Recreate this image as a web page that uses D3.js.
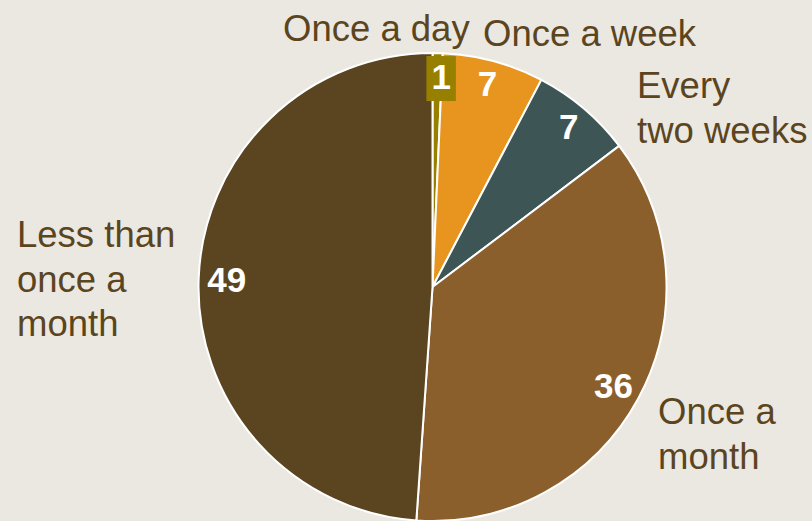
<!DOCTYPE html>
<html>
<head>
<meta charset="utf-8">
<script src="https://cdn.jsdelivr.net/npm/d3@7"></script>
<style>
  html, body { margin: 0; padding: 0; background: #ebe8e2; }
  svg { display: block; }
</style>
</head>
<body>
<script>
// how often -- share of respondents (%)
const categories = ["Once a day", "Once a week", "Every two weeks", "Once a month", "Less than once a month"];
const values = [0.7, 7.0, 7.0, 36.4, 48.9];
const colors = ["#978000", "#e8951f", "#3d5655", "#8b5f2c", "#5b4520"];

// outside label lines and their placement relative to the pie centre
const labelLines = [["Once a day"], ["Once a week"], ["Every", "two weeks"], ["Once a", "month"], ["Less than", "once a", "month"]];
const labelPos = [[-149.5, -246], [50.5, -241], [204.5, -189], [225.5, 137], [-415.5, -40]];

const width = 812, height = 521;
const cx = 432.5, cy = 287, r = 234;
const lineH = 44.5;

const svg = d3.select("body").append("svg")
    .attr("width", width)
    .attr("height", height)
    .style("font-family", "Arial, 'Liberation Sans', sans-serif");

svg.append("rect").attr("width", width).attr("height", height).attr("fill", "#ebe8e2");

const data = categories.map((c, i) => ({name: c, value: values[i], color: colors[i]}));

const pie = d3.pie().value(d => d.value).sort(null);
const arcs = pie(data);

const arc = d3.arc().innerRadius(0).outerRadius(r);
// small slices sit a little further out
const labelArc = d3.arc()
    .innerRadius(d => d.data.value < 10 ? r * 0.9 : r * 0.88)
    .outerRadius(d => d.data.value < 10 ? r * 0.9 : r * 0.88);

const g = svg.append("g").attr("transform", `translate(${cx},${cy})`);

g.selectAll("path")
  .data(arcs)
  .join("path")
    .attr("d", arc)
    .attr("fill", d => d.data.color)
    .attr("stroke", "#fff")
    .attr("stroke-width", 2)
    .attr("stroke-linejoin", "round");

// value labels
const vl = g.append("g").selectAll("g")
  .data(arcs)
  .join("g")
    .attr("transform", d => {
      const [x, y] = labelArc.centroid(d);
      return `translate(${d.index === 0 ? x + 4 : x},${y})`;
    });

vl.append("text")
    .attr("text-anchor", "middle")
    .attr("dy", "0.36em")
    .attr("fill", "#fff")
    .attr("font-weight", "bold")
    .attr("font-size", 35)
    .text(d => Math.round(d.data.value));

// the tiny slice gets a filled box behind its number
vl.filter(d => d.index === 0).each(function() {
  const t = d3.select(this).select("text");
  const b = t.node().getBBox();
  d3.select(this).insert("rect", "text")
      .attr("x", b.x - 5)
      .attr("y", b.y - 1)
      .attr("width", b.width + 10)
      .attr("height", b.height + 6)
      .attr("fill", colors[0]);
});

// category labels
const cl = g.append("g").selectAll("text")
  .data(arcs)
  .join("text")
    .attr("x", d => labelPos[d.index][0])
    .attr("y", d => labelPos[d.index][1])
    .attr("fill", "#5b4520")
    .attr("font-size", 36.5);

cl.selectAll("tspan")
  .data(d => labelLines[d.index].map((t, i) => ({t, i, x: labelPos[d.index][0]})))
  .join("tspan")
    .attr("x", d => d.x)
    .attr("dy", d => d.i === 0 ? 0 : lineH)
    .text(d => d.t);
</script>
</body>
</html>
